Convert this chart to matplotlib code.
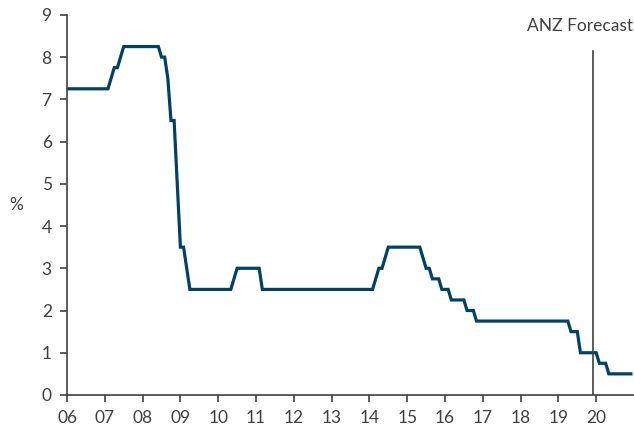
import numpy as np
import matplotlib
matplotlib.use("Agg")
import matplotlib.pyplot as plt

# official cash rate, monthly from Jan 2006: level and number of months held
LEVELS = [7.25, 7.5, 7.75, 8.0, 8.25, 8.0, 7.5, 6.5, 5.0, 3.5, 3.0, 2.5, 2.75, 3.0,
          2.5, 2.75, 3.0, 3.25, 3.5, 3.25, 3.0, 2.75, 2.5, 2.25, 2.0, 1.75, 1.5,
          1.0, 0.75, 0.5]
MONTHS_HELD = [14, 1, 2, 1, 12, 2, 1, 2, 1, 2, 1, 14, 1, 8,
               36, 1, 2, 1, 11, 1, 2, 3, 3, 5, 3, 30, 3,
               6, 3, 8]
START_YEAR = 2006
FORECAST_START = 2019 + 11 / 12
YEARS = list(range(2006, 2021))
YEAR_LABELS = ["%02d" % (y % 100) for y in YEARS]

BLUE = "#004165"
GREY = "#404040"

plt.rcParams['font.family'] = ['Lato', 'DejaVu Sans']

rate = np.repeat(LEVELS, MONTHS_HELD)
dates = START_YEAR + np.arange(len(rate)) / 12.0

fig = plt.figure(figsize=(6.34, 4.29), dpi=100)
ax = fig.add_axes([0.1057, 0.0793, 0.8943, 0.886])

ax.plot(dates, rate, color=BLUE, lw=2.3, solid_joinstyle='miter')
ax.axvline(FORECAST_START, ymin=0, ymax=0.905, color=GREY, lw=1.2)
ax.text(0.998, 0.97, "ANZ Forecast", transform=ax.transAxes, ha='right', va='center',
        fontsize=12.5, color=GREY)

ax.set_xlim(2006, 2021)
ax.set_ylim(0, 9)
ax.set_xticks(YEARS)
ax.set_xticklabels(YEAR_LABELS)
ax.set_yticks(range(0, 10))
ax.set_ylabel("%", rotation=0, fontsize=12.5, color=GREY, labelpad=18, va='center')

for side in ['top', 'right']:
    ax.spines[side].set_visible(False)
for side in ['left', 'bottom']:
    ax.spines[side].set_color(GREY)
    ax.spines[side].set_linewidth(1.2)
ax.tick_params(axis='both', direction='out', length=5, width=1.2, color=GREY,
               labelcolor=GREY, labelsize=12.5, pad=6)

fig.savefig("out.png", dpi=100)
